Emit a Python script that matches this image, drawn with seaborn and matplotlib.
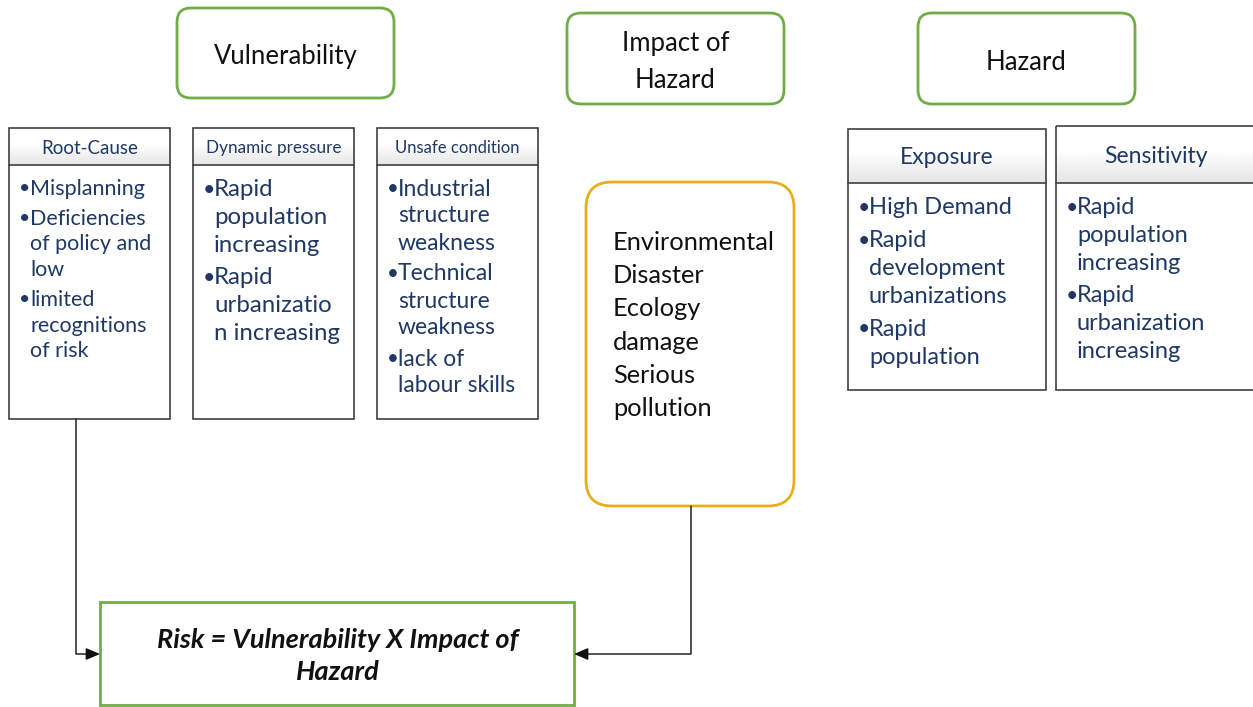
import numpy as np
import matplotlib.pyplot as plt
import seaborn as sns
from matplotlib.patches import FancyBboxPatch, Rectangle

sns.set_theme(style='white')
plt.rcParams['font.family'] = ['Lato', 'DejaVu Sans']

# diagram text
top_titles = ['Vulnerability', 'Impact of\nHazard', 'Hazard']
vuln_headers = ['Root-Cause', 'Dynamic pressure', 'Unsafe condition']
vuln_items = [
    [['Misplanning'], ['Deficiencies', 'of policy and', 'low'], ['limited', 'recognitions', 'of risk']],
    [['Rapid', 'population', 'increasing'], ['Rapid', 'urbanizatio', 'n increasing']],
    [['Industrial', 'structure', 'weakness'], ['Technical', 'structure', 'weakness'], ['lack of', 'labour skills']],
]
hazard_headers = ['Exposure', 'Sensitivity']
hazard_items = [
    [['High Demand'], ['Rapid', 'development', 'urbanizations'], ['Rapid', 'population']],
    [['Rapid', 'population', 'increasing'], ['Rapid', 'urbanization', 'increasing']],
]
impact_lines = ['Environmental', 'Disaster', 'Ecology', 'damage', 'Serious', 'pollution']
risk_formula = 'Risk = Vulnerability X Impact of\nHazard'

green = '#70ad47'
gold = '#e8ae1c'
navy = '#1f3864'
edge = '#3f3f3f'

fig = plt.figure(figsize=(12.53, 7.07), dpi=100)
ax = fig.add_axes([0, 0, 1, 1])
ax.set_xlim(0, 1253)
ax.set_ylim(707, 0)
ax.axis('off')

grad = np.concatenate([np.ones(20), np.linspace(1, 0.9, 30)]).reshape(-1, 1)


def rounded(x0, y0, w, h, r, color, lw=2):
    ax.add_patch(FancyBboxPatch((x0 + r, y0 + r), w - 2 * r, h - 2 * r,
                                boxstyle=f'round,pad={r}', fc='white', ec=color, lw=lw))


def card(x0, y0, w, h, hh, header, hsize, items, bsize, first, lh, gap):
    ax.imshow(grad, cmap='gray', vmin=0, vmax=1, extent=(x0, x0 + w, y0 + hh, y0),
              aspect='auto', zorder=1)
    ax.add_patch(Rectangle((x0, y0), w, h, fc='none', ec=edge, lw=1.2, zorder=2))
    ax.plot([x0, x0 + w], [y0 + hh, y0 + hh], color=edge, lw=1.2, zorder=2)
    ax.text(x0 + w / 2, y0 + hh / 2, header, ha='center', va='center_baseline',
            fontsize=hsize, color=navy, zorder=3)
    y = first
    for item in items:
        ax.text(x0 + 10, y, '•', ha='left', va='center_baseline', fontsize=bsize * 0.9,
                color=navy, zorder=3)
        for line in item:
            ax.text(x0 + 21, y, line, ha='left', va='center_baseline', fontsize=bsize,
                    color=navy, zorder=3)
            y += lh
        y += gap


# top title boxes
title_boxes = [(177, 8, 217, 90), (567, 13, 217, 91), (918, 13, 217, 91)]
for (x0, y0, w, h), t in zip(title_boxes, top_titles):
    rounded(x0, y0, w, h, 14, green)
    ax.text(x0 + w / 2, y0 + h / 2 + 3.5, t, ha='center', va='center', fontsize=18.5,
            color='#111111', linespacing=1.55)

# vulnerability cards
vuln_layout = [(9, 13.5, 15.5, 187, 25.5, 4.5), (193, 12.3, 17.3, 188, 28, 4),
               (377, 12, 16.5, 187, 27, 4)]
for (x0, hs, bs, first, lh, gap), hd, it in zip(vuln_layout, vuln_headers, vuln_items):
    card(x0, 128, 161, 291, 37, hd, hs, it, bs, first, lh, gap)

# hazard cards
card(848, 129, 198, 261, 54, hazard_headers[0], 16.5, hazard_items[0], 17, 206, 28, 4.5)
card(1056, 126, 200, 264, 57, hazard_headers[1], 16.5, hazard_items[1], 17, 206, 28, 4)

# impact box
rounded(586, 182, 208, 324, 26, gold)
for i, line in enumerate(impact_lines):
    ax.text(613, 240 + i * 33.4, line, ha='left', va='center_baseline', fontsize=18.3,
            color='#111111')

# risk box
ax.add_patch(Rectangle((100, 602), 474, 103, fc='white', ec=green, lw=2))
ax.text(338, 656, risk_formula, ha='center', va='center', fontsize=19.5,
        fontweight='bold', fontstyle='italic', color='#111111', linespacing=1.42)

# connectors
ax.plot([76, 76, 92], [419, 654, 654], color='#222222', lw=1.1)
ax.annotate('', xy=(100, 654), xytext=(88, 654),
            arrowprops=dict(arrowstyle='-|>,head_length=0.7,head_width=0.3',
                            color='#111111', lw=1.1, shrinkA=0, shrinkB=0))
ax.plot([691, 691, 582], [506, 654, 654], color='#222222', lw=1.1)
ax.annotate('', xy=(574, 654), xytext=(586, 654),
            arrowprops=dict(arrowstyle='-|>,head_length=0.7,head_width=0.3',
                            color='#111111', lw=1.1, shrinkA=0, shrinkB=0))

fig.savefig('out.png', dpi=100)
